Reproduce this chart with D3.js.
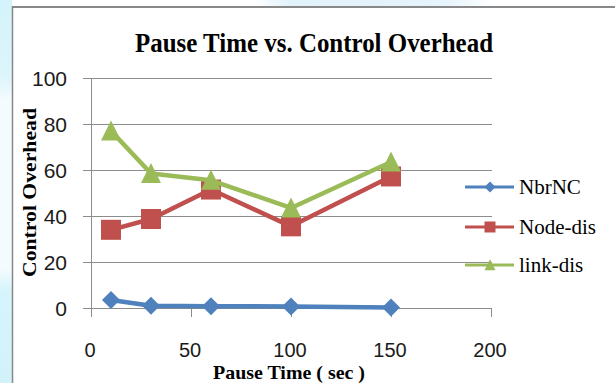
<!DOCTYPE html>
<html>
<head>
<meta charset="utf-8">
<script src="https://cdn.jsdelivr.net/npm/d3@7"></script>
<style>
html,body{margin:0;padding:0;background:#fff;}
svg{display:block;}
</style>
</head>
<body>
<svg id="chart" width="615" height="383"></svg>
<script>
const pauseTimes = [10, 30, 60, 100, 150];
const nbrNC = [3.5, 1.0, 0.8, 0.7, 0.2];
const nodeDis = [34, 38.7, 51.5, 35.5, 57.2];
const linkDis = [77, 58.5, 55.5, 43.5, 63.5];
const seriesNames = ["NbrNC", "Node-dis", "link-dis"];
const xTicks = [0, 50, 100, 150, 200];
const yTicks = [0, 20, 40, 60, 80, 100];
const titleText = "Pause Time vs. Control Overhead";
const xTitle = "Pause Time ( sec )";
const yTitle = "Control Overhead";

const colors = ["#4F81BD", "#C0504D", "#9BBB59"];
const markers = ["diamond", "square", "triangle"];
const seriesValues = [nbrNC, nodeDis, linkDis];

const svg = d3.select("#chart");

// background decoration
const defs = svg.append("defs");
const lg = defs.append("linearGradient").attr("id","leftg").attr("x1",0).attr("y1",0).attr("x2",0).attr("y2",1);
lg.append("stop").attr("offset","0").attr("stop-color","#d4f3fa");
lg.append("stop").attr("offset","0.2").attr("stop-color","#dcf5fb");
lg.append("stop").attr("offset","0.26").attr("stop-color","#f4fbfd");
lg.append("stop").attr("offset","0.7").attr("stop-color","#f4fbfd");
lg.append("stop").attr("offset","0.76").attr("stop-color","#d6f4fb");
lg.append("stop").attr("offset","1").attr("stop-color","#d2f2fa");
svg.append("rect").attr("x",0).attr("y",0).attr("width",12).attr("height",383).attr("fill","url(#leftg)");
const tg = defs.append("linearGradient").attr("id","topg").attr("x1",0).attr("y1",0).attr("x2",1).attr("y2",0);
tg.append("stop").attr("offset","0").attr("stop-color","#ffffff");
tg.append("stop").attr("offset","0.4").attr("stop-color","#ffffff");
tg.append("stop").attr("offset","0.46").attr("stop-color","#e2f2fb");
tg.append("stop").attr("offset","0.72").attr("stop-color","#e6f4fb");
tg.append("stop").attr("offset","0.8").attr("stop-color","#ffffff");
tg.append("stop").attr("offset","1").attr("stop-color","#ffffff");
svg.append("rect").attr("x",12).attr("y",0).attr("width",603).attr("height",6).attr("fill","url(#topg)");

// chart frame
svg.append("line").attr("x1",12).attr("x2",615).attr("y1",7).attr("y2",7).attr("stroke","#888").attr("stroke-width",2);
svg.append("line").attr("x1",12.5).attr("x2",12.5).attr("y1",6).attr("y2",383).attr("stroke","#888").attr("stroke-width",1.5);

const x = d3.scaleLinear().domain([0, 200]).range([91, 491]);
const y = d3.scaleLinear().domain([0, 100]).range([308, 78]);

// gridlines
svg.append("g").selectAll("line").data(yTicks).join("line")
  .attr("x1", 83).attr("x2", x(200) + 1)
  .attr("y1", d => Math.round(y(d)) + 0.5).attr("y2", d => Math.round(y(d)) + 0.5)
  .attr("stroke", "#8c8c8c").attr("stroke-width", 1);

// y axis line
svg.append("line").attr("x1", x(0) + 0.5).attr("x2", x(0) + 0.5)
  .attr("y1", y(100)).attr("y2", y(0) + 9).attr("stroke", "#8c8c8c");

// x axis ticks
svg.append("g").selectAll("line").data(xTicks).join("line")
  .attr("x1", d => Math.round(x(d)) + 0.5).attr("x2", d => Math.round(x(d)) + 0.5)
  .attr("y1", y(0)).attr("y2", y(0) + 9)
  .attr("stroke", "#8c8c8c");

// tick labels
svg.append("g").selectAll("text").data(yTicks).join("text")
  .attr("x", 67).attr("y", d => y(d) + 7.5)
  .attr("text-anchor", "end")
  .attr("font-family", "Liberation Sans, Arial, sans-serif")
  .attr("font-size", 21).attr("fill", "#1a1a1a")
  .text(d => d);
svg.append("g").selectAll("text").data(xTicks).join("text")
  .attr("x", d => x(d) - 1).attr("y", 357)
  .attr("text-anchor", "middle")
  .attr("font-family", "Liberation Sans, Arial, sans-serif")
  .attr("font-size", 20).attr("fill", "#1a1a1a")
  .text(d => d);

// titles
svg.append("text").attr("x", 135).attr("y", 52)
  .attr("font-family", "Liberation Serif, Times New Roman, serif")
  .attr("font-weight", "bold").attr("font-size", 27)
  .attr("textLength", 358).attr("lengthAdjust", "spacingAndGlyphs")
  .attr("fill", "#000").text(titleText);
svg.append("text").attr("x", 213).attr("y", 379)
  .attr("font-family", "Liberation Serif, Times New Roman, serif")
  .attr("font-weight", "bold").attr("font-size", 19)
  .attr("textLength", 152).attr("lengthAdjust", "spacingAndGlyphs")
  .attr("fill", "#000").text(xTitle);
svg.append("text")
  .attr("transform", "translate(36,277) rotate(-90)")
  .attr("font-family", "Liberation Serif, Times New Roman, serif")
  .attr("font-weight", "bold").attr("font-size", 18)
  .attr("textLength", 169).attr("lengthAdjust", "spacingAndGlyphs")
  .attr("fill", "#000").text(yTitle);

function markerPath(type, s) {
  const h = s / 2;
  if (type === "diamond") return `M0,${-h}L${h},0L0,${h}L${-h},0Z`;
  if (type === "square") return `M${-h},${-h}H${h}V${h}H${-h}Z`;
  return `M0,${-h * 1.05}L${h},${h * 0.95}L${-h},${h * 0.95}Z`;
}

const line = d3.line().x(d => x(d[0])).y(d => y(d[1]));

seriesValues.forEach((vals, i) => {
  const pts = pauseTimes.map((t, j) => [t, vals[j]]);
  const g = svg.append("g");
  g.append("path").attr("d", line(pts)).attr("fill", "none")
    .attr("stroke", colors[i]).attr("stroke-width", 4.5).attr("stroke-linejoin", "round");
  g.selectAll("path.m").data(pts).join("path").attr("class", "m")
    .attr("transform", d => `translate(${x(d[0])},${y(d[1])})`)
    .attr("d", markerPath(markers[i], markers[i] === "diamond" ? 18 : 20))
    .attr("fill", colors[i]);
});

// legend
const legendY = [187, 227, 265];
seriesNames.forEach((name, i) => {
  const g = svg.append("g");
  g.append("line").attr("x1", 465).attr("x2", 514).attr("y1", legendY[i]).attr("y2", legendY[i])
    .attr("stroke", colors[i]).attr("stroke-width", 3);
  g.append("path").attr("transform", `translate(490,${legendY[i]})`)
    .attr("d", markerPath(markers[i], 11)).attr("fill", colors[i]);
  g.append("text").attr("x", 519).attr("y", legendY[i] + 6.5)
    .attr("font-family", "Liberation Serif, Times New Roman, serif")
    .attr("font-size", 21).attr("fill", "#000").text(name);
});
</script>
</body>
</html>
